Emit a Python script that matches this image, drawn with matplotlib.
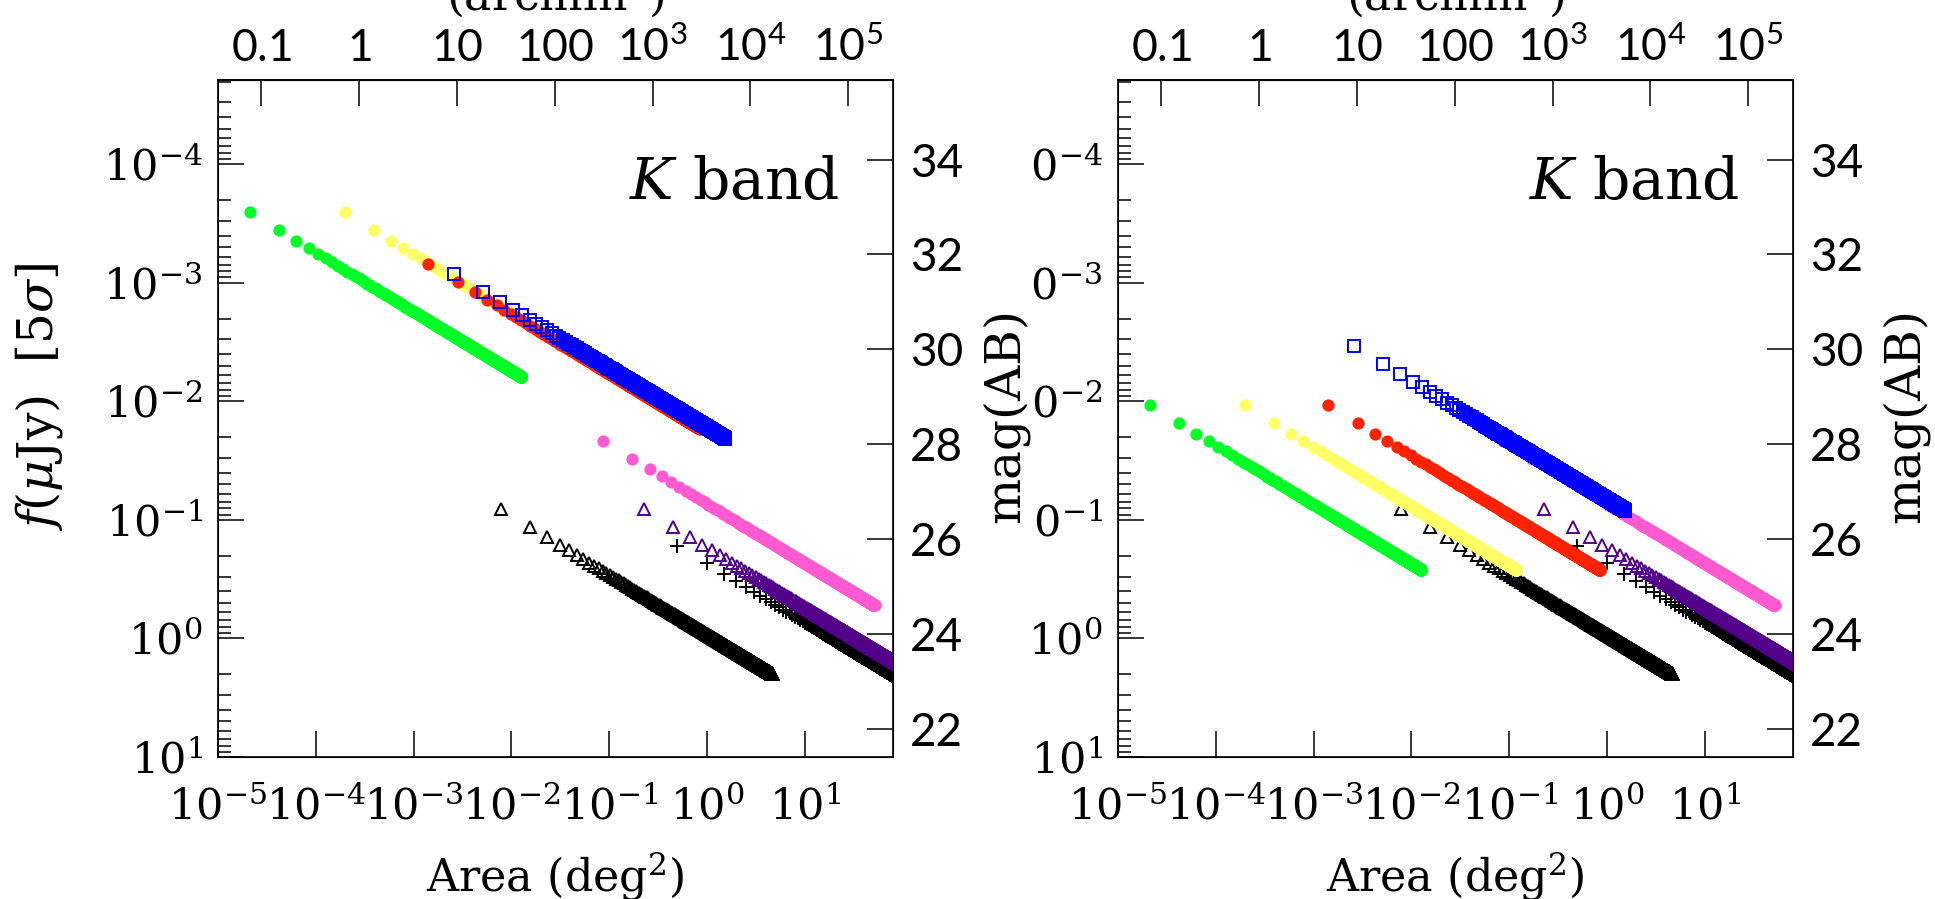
import numpy as np
import matplotlib
matplotlib.use("Agg")
import matplotlib.pyplot as plt
from matplotlib.patches import Rectangle
from matplotlib.ticker import NullFormatter

plt.rcParams['font.family'] = ['DejaVu Serif']
plt.rcParams['mathtext.fontset'] = 'dejavuserif'
# thin labels (top and right axes) use the 'custom' math fonts
plt.rcParams['mathtext.rm'] = 'Lato'
plt.rcParams['mathtext.it'] = 'Lato:italic'
plt.rcParams['mathtext.bf'] = 'Lato:bold'

# each survey: area of the first pointing (deg^2), 5 sigma depth of that pointing (AB)
# and the number of pointings tiled
names = ["green", "yellow", "red", "blue", "pink", "purple", "cross", "black"]
colors = ["#00ff26", "#ffff66", "#ff2200", "#0000ff", "#ff5ad2", "#52008a", "black", "black"]
markers = ["o", "o", "o", "s", "o", "^", "+", "^"]
area_first = [2.11e-5, 1.97e-4, 1.41e-3, 2.58e-3, 0.0865, 0.225, 0.50, 7.8e-3]
depth_left = [32.89, 32.89, 31.80, 31.59, 28.07, 26.63, 25.86, 26.63]
depth_right = [28.82, 28.82, 28.82, 30.07, 28.07, 26.63, 25.86, 26.63]
n_pointings = [600, 600, 600, 600, 600, 600, 600, 600]
draw_order = ["black", "cross", "purple", "pink", "green", "yellow", "red", "blue"]

area_ticks = [1e-5, 1e-4, 1e-3, 1e-2, 1e-1, 1e0, 1e1]
area_labels = [r"$10^{-5}$", r"$10^{-4}$", r"$10^{-3}$", r"$10^{-2}$", r"$10^{-1}$", r"$10^{0}$", r"$10^{1}$"]
flux_ticks = [1e-4, 1e-3, 1e-2, 1e-1, 1e0, 1e1]
flux_labels = [r"$10^{-4}$", r"$10^{-3}$", r"$10^{-2}$", r"$10^{-1}$", r"$10^{0}$", r"$10^{1}$"]
arcmin_ticks = [0.1, 1, 10, 100, 1e3, 1e4, 1e5]
arcmin_labels = [r"$0.1$", r"$1$", r"$10$", r"$100$", r"$10^{3}$", r"$10^{4}$", r"$10^{5}$"]
mag_ticks = [22, 24, 26, 28, 30, 32, 34]

mag_zp = 23.9          # AB mag of 1 uJy
mag_lim = (21.4, 35.68)
area_lim = (1e-5, 80)

W, H = 1935, 899
fig = plt.figure(figsize=(W / 100, H / 100), dpi=100)


def make_panel(left_px, depth, zo):
    ax = fig.add_axes([left_px / W, (H - 757) / H, 675 / W, 677 / H])
    ax.set_zorder(zo)
    ax.set_xscale('log')
    ax.set_yscale('log')
    ax.set_xlim(*area_lim)
    ax.set_ylim(10 ** ((mag_zp - mag_lim[0]) / 2.5), 10 ** ((mag_zp - mag_lim[1]) / 2.5))

    axm = ax.twinx()
    axm.set_zorder(zo)
    axm.set_ylim(*mag_lim)

    for name in draw_order:
        i = names.index(name)
        n = np.arange(1, n_pointings[i] + 1)
        x = area_first[i] * n
        y = depth[i] - 1.25 * np.log10(n)
        if markers[i] == "o":
            axm.plot(x, y, "o", color=colors[i], ms=8.8, mew=0, ls="none")
        elif markers[i] == "+":
            axm.plot(x, y, "+", color=colors[i], ms=10, mew=1.4, ls="none")
        else:
            axm.plot(x, y, markers[i], mfc="none", mec=colors[i], ms=9, mew=1.4, ls="none")

    for sp in ax.spines.values():
        sp.set_linewidth(1.2)

    ax.set_xticks(area_ticks, labels=area_labels)
    ax.set_yticks(flux_ticks, labels=flux_labels)
    ax.xaxis.set_minor_formatter(NullFormatter())
    ax.yaxis.set_minor_formatter(NullFormatter())
    ax.tick_params(which='both', direction='in', top=False, right=False, width=1.1)
    ax.tick_params(which='major', length=19)
    ax.tick_params(which='minor', length=9.5)
    ax.tick_params(axis='x', which='major', labelsize=31, pad=21)
    ax.tick_params(axis='y', which='major', labelsize=31, pad=11)

    sec = ax.secondary_xaxis('top', functions=(lambda a: a * 3600.0, lambda a: a / 3600.0))
    sec.set_xticks(arcmin_ticks, labels=arcmin_labels, math_fontfamily='custom')
    sec.xaxis.set_minor_formatter(NullFormatter())
    sec.tick_params(which='both', direction='in', width=1.1)
    sec.tick_params(which='major', length=19, labelsize=32, pad=7)
    sec.tick_params(which='minor', length=9.5)
    sec.spines['top'].set_linewidth(1.2)

    axm.set_yticks(mag_ticks, labels=[str(m) for m in mag_ticks], fontfamily='Lato')
    axm.tick_params(axis='y', direction='in', length=19, width=1.1, labelsize=33, pad=12)

    ax.set_xlabel(r"Area (deg$^2$)", fontsize=32)
    ax.xaxis.set_label_coords(0.5, -0.137)
    ax.set_ylabel(r"$f(\mu{\rm Jy})\ \ [5\sigma]$", fontsize=35)
    ax.yaxis.set_label_coords(-0.2267, 0.532)
    axm.set_ylabel("mag(AB)", fontsize=35)
    axm.yaxis.set_label_coords(1.132, 0.505)

    ax.text(0.5, 1.1034, r"(arcmin$^2$)", transform=ax.transAxes, ha='center',
            va='baseline', fontsize=33, clip_on=False)
    ax.text(0.92, 0.824, r"$K$ band", transform=ax.transAxes, ha='right',
            va='baseline', fontsize=42)
    return ax


make_panel(218, depth_left, 3)
make_panel(1118, depth_right, 1)

# right panel was cropped on its left side: hide everything of it left of x=1031 px
fig.add_artist(Rectangle((0, 0), 1031 / W, 1, transform=fig.transFigure,
                         facecolor='white', edgecolor='none', zorder=2))

fig.savefig("out.png", dpi=100)
